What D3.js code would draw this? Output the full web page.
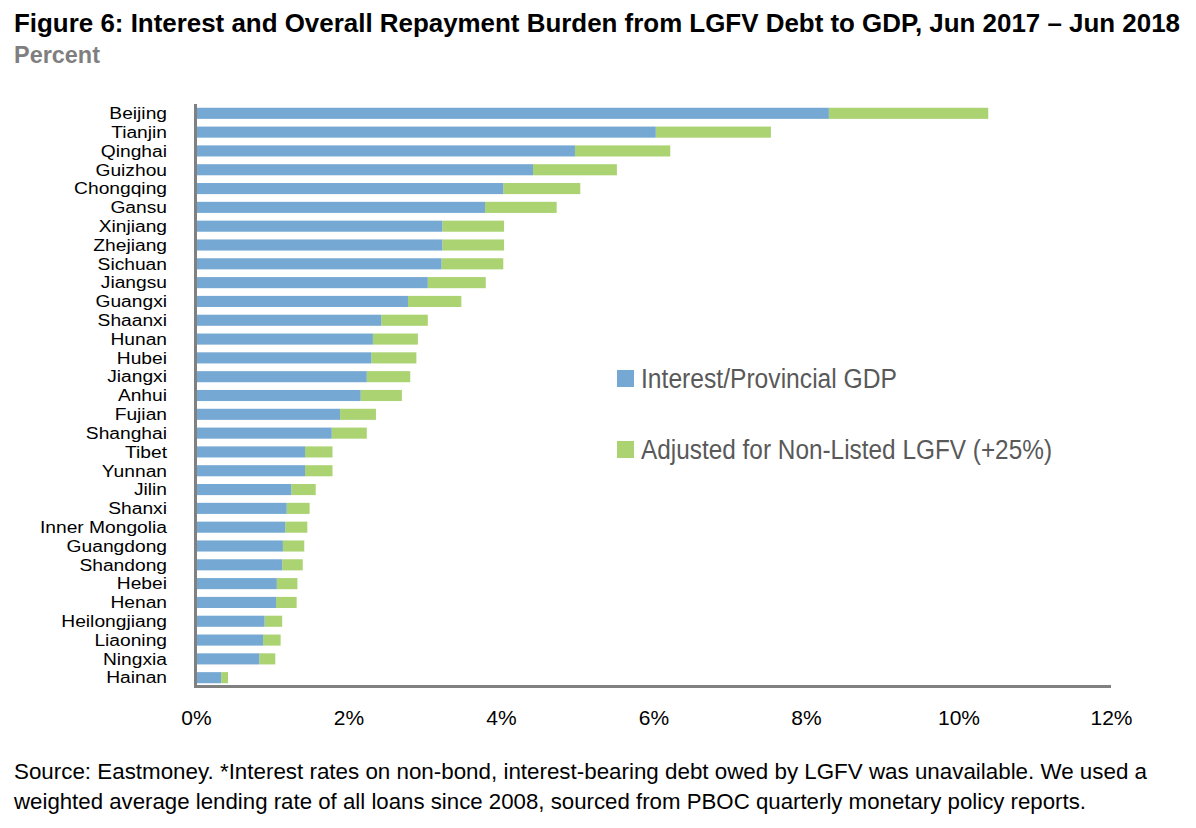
<!DOCTYPE html>
<html><head><meta charset="utf-8">
<script src="https://cdn.jsdelivr.net/npm/d3@7"></script>
<style>body{margin:0;background:#fff}</style>
</head><body>
<svg id="c" width="1196" height="828"></svg>
<script>
const provinces = ["Beijing","Tianjin","Qinghai","Guizhou","Chongqing","Gansu","Xinjiang","Zhejiang","Sichuan","Jiangsu","Guangxi","Shaanxi","Hunan","Hubei","Jiangxi","Anhui","Fujian","Shanghai","Tibet","Yunnan","Jilin","Shanxi","Inner Mongolia","Guangdong","Shandong","Hebei","Henan","Heilongjiang","Liaoning","Ningxia","Hainan"];
const interest = [8.30,6.03,4.97,4.42,4.03,3.79,3.23,3.23,3.22,3.04,2.78,2.43,2.32,2.30,2.24,2.16,1.89,1.78,1.43,1.43,1.25,1.19,1.17,1.14,1.13,1.06,1.05,0.90,0.88,0.83,0.33];
const adjustedTotal = [10.39,7.54,6.22,5.52,5.04,4.73,4.04,4.04,4.03,3.80,3.48,3.04,2.91,2.89,2.81,2.70,2.36,2.24,1.79,1.79,1.57,1.49,1.46,1.42,1.40,1.33,1.32,1.13,1.11,1.04,0.42];
const xTicks = [0,2,4,6,8,10,12];
const seriesNames = ["Interest/Provincial GDP","Adjusted for Non-Listed LGFV (+25%)"];
const colors = ["#75a9d3","#abd372"];

const svg = d3.select("#c");
const font = "'Liberation Sans Narrow', 'Arial Narrow', 'Liberation Sans', sans-serif";

svg.append("text").attr("x",14).attr("y",32).attr("font-family",font).attr("font-weight","bold")
  .attr("font-size",26).attr("fill","#000").attr("textLength",1166).attr("lengthAdjust","spacingAndGlyphs")
  .text("Figure 6: Interest and Overall Repayment Burden from LGFV Debt to GDP, Jun 2017 \u2013 Jun 2018");
svg.append("text").attr("x",14).attr("y",63).attr("font-family",font).attr("font-weight","bold")
  .attr("font-size",23).attr("fill","#7f7f7f").attr("textLength",86).attr("lengthAdjust","spacingAndGlyphs").text("Percent");

const x = d3.scaleLinear().domain([0,12]).range([196,1111]);
const y = d3.scaleBand().domain(provinces).range([104,687]).paddingInner(0.41).paddingOuter(0.2);

const g = svg.append("g");
g.selectAll("rect.adj").data(provinces).join("rect").attr("class","adj")
  .attr("x",(d,i)=>x(interest[i])).attr("y",d=>y(d)).attr("height",y.bandwidth())
  .attr("width",(d,i)=>x(adjustedTotal[i])-x(interest[i])).attr("fill",colors[1]);
g.selectAll("rect.int").data(provinces).join("rect").attr("class","int")
  .attr("x",x(0)).attr("y",d=>y(d)).attr("height",y.bandwidth())
  .attr("width",(d,i)=>x(interest[i])-x(0)).attr("fill",colors[0]);

// category labels (slightly stretched to mimic the reference's taller, condensed face)
g.selectAll("text.cat").data(provinces).join("text").attr("class","cat")
  .attr("x",167).attr("y",d=>y(d)+y.bandwidth()/2).attr("dy","0.36em")
  .attr("text-anchor","end").attr("font-family",font).attr("font-size",16).attr("fill","#000").text(d=>d)
  .each(function(){ const w=this.getComputedTextLength(); d3.select(this).attr("textLength",w*1.2).attr("lengthAdjust","spacingAndGlyphs"); });

// axes lines
svg.append("line").attr("x1",x(0)-0.5).attr("x2",x(0)-0.5).attr("y1",104).attr("y2",688)
  .attr("stroke","#808080").attr("stroke-width",3);
svg.append("line").attr("x1",x(0)-2).attr("x2",x(12)).attr("y1",686.5).attr("y2",686.5)
  .attr("stroke","#808080").attr("stroke-width",3);

const xa = svg.append("g").attr("transform","translate(0,686)")
  .call(d3.axisBottom(x).tickValues(xTicks).tickFormat(d=>d+"%").tickSize(0).tickPadding(24));
xa.select(".domain").remove();
xa.selectAll("text").attr("font-family",font).attr("font-size",21).attr("fill","#000");

// legend
const legWidths = [256, 411];
const leg = svg.append("g");
seriesNames.forEach((s,i)=>{
  const ly = 378 + i*71;
  leg.append("rect").attr("x",617).attr("y",ly-8).attr("width",17).attr("height",17).attr("fill",colors[i]);
  leg.append("text").attr("x",641).attr("y",ly).attr("dy","0.36em").attr("font-family",font)
    .attr("font-size",27).attr("fill","#595959").attr("textLength",legWidths[i]).attr("lengthAdjust","spacingAndGlyphs").text(s);
});

// source
const src = ["Source: Eastmoney. *Interest rates on non-bond, interest-bearing debt owed by LGFV was unavailable. We used a",
 "weighted average lending rate of all loans since 2008, sourced from PBOC quarterly monetary policy reports."];
const srcWidths = [1133, 1072];
src.forEach((t,i)=>svg.append("text").attr("x",14).attr("y",779+i*30).attr("font-family",font)
  .attr("font-size",22).attr("fill","#000").attr("textLength",srcWidths[i]).attr("lengthAdjust","spacingAndGlyphs").text(t));
</script>
</body></html>
